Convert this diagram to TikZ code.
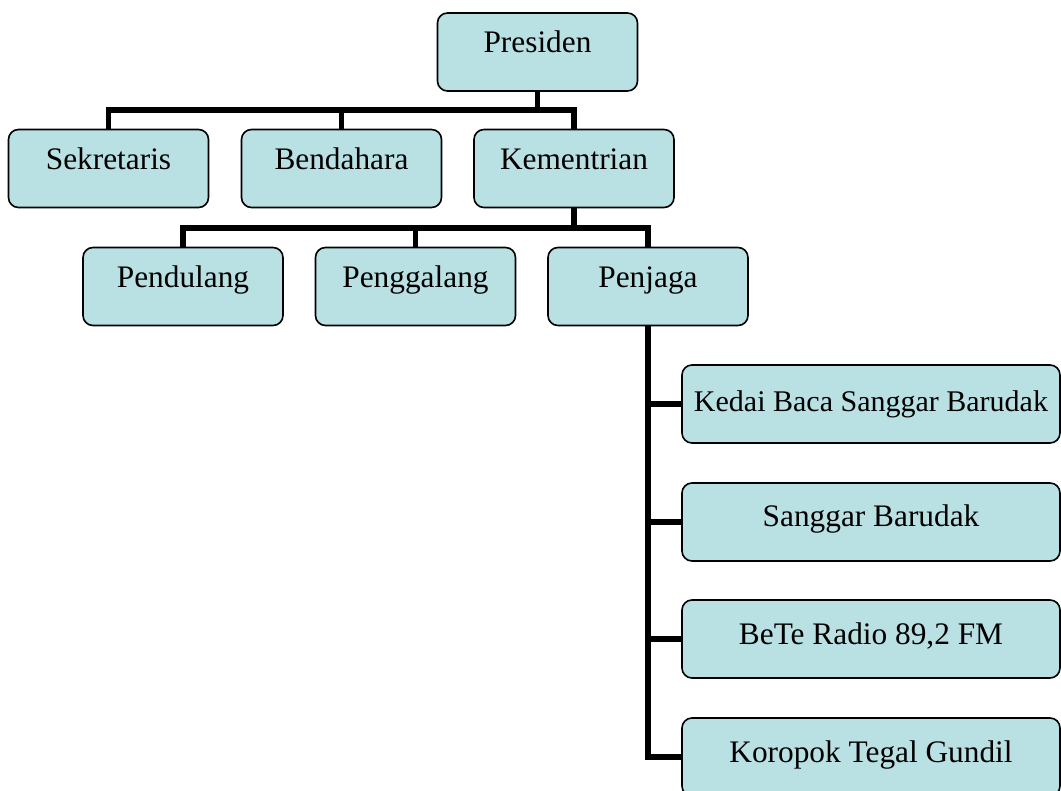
\documentclass[tikz,border=0pt]{standalone}
\usepackage{fontspec}
\setmainfont{Liberation Serif}
\definecolor{boxfill}{RGB}{185,224,227}
\begin{document}
\begin{tikzpicture}[x=0.75pt,y=-0.75pt,
  orgbox/.style={draw=black, line width=1.2pt, fill=boxfill, rounded corners=7.5pt,
    inner sep=0pt, font=\fontsize{23.5}{28}\selectfont},
  topbox/.style={orgbox, minimum width=150pt, text height=30pt, text depth=28.5pt},
  sidebox/.style={orgbox, minimum width=283.5pt, text height=33pt, text depth=25.5pt},
  conn/.style={line width=4pt, line join=miter}]
\useasboundingbox (0,0) rectangle (1061,791);
\clip (0,0) rectangle (1061,791);
\coordinate (bus1) at (0,110);
\coordinate (bus2) at (0,228);
% connectors
\coordinate (presS) at (537.5,91);
\coordinate (kemS) at (574,207.5);
\coordinate (penjS) at (648,325.5);
\node[topbox] (pres) at (537.5,52) {Presiden};
\node[topbox] (sek) at (108.5,168.5) {Sekretaris};
\node[topbox] (bend) at (341.5,168.5) {Bendahara};
\node[topbox] (kem) at (574,168.5) {Kementrian};
\node[topbox] (pend) at (183,286.5) {Pendulang};
\node[topbox] (peng) at (415.5,286.5) {Penggalang};
\node[topbox] (penj) at (648,286.5) {Penjaga};
\node[sidebox, text height=35.25pt, text depth=23.25pt, font=\fontsize{22.5}{27}\selectfont] (kedai) at (871,404) {Kedai Baca Sanggar Barudak};
\node[sidebox] (sang) at (871,522) {Sanggar Barudak};
\node[sidebox] (bete) at (871,639) {BeTe Radio 89,2 FM};
\node[sidebox] (koro) at (871,757) {Koropok Tegal Gundil};
\draw[conn] (pres.south) -- (pres.south |- bus1) -| (sek.north);
\draw[conn] (pres.south) -- (pres.south |- bus1) -| (bend.north);
\draw[conn] (pres.south) -- (pres.south |- bus1) -| (kem.north);
\draw[conn] (kem.south) -- (kem.south |- bus2) -| (pend.north);
\draw[conn] (kem.south) -- (kem.south |- bus2) -| (peng.north);
\draw[conn] (kem.south) -- (kem.south |- bus2) -| (penj.north);
\draw[conn] (penj.south) |- (kedai.west);
\draw[conn] (penj.south) |- (sang.west);
\draw[conn] (penj.south) |- (bete.west);
\draw[conn] (penj.south) |- (koro.west);
\end{tikzpicture}
\end{document}
